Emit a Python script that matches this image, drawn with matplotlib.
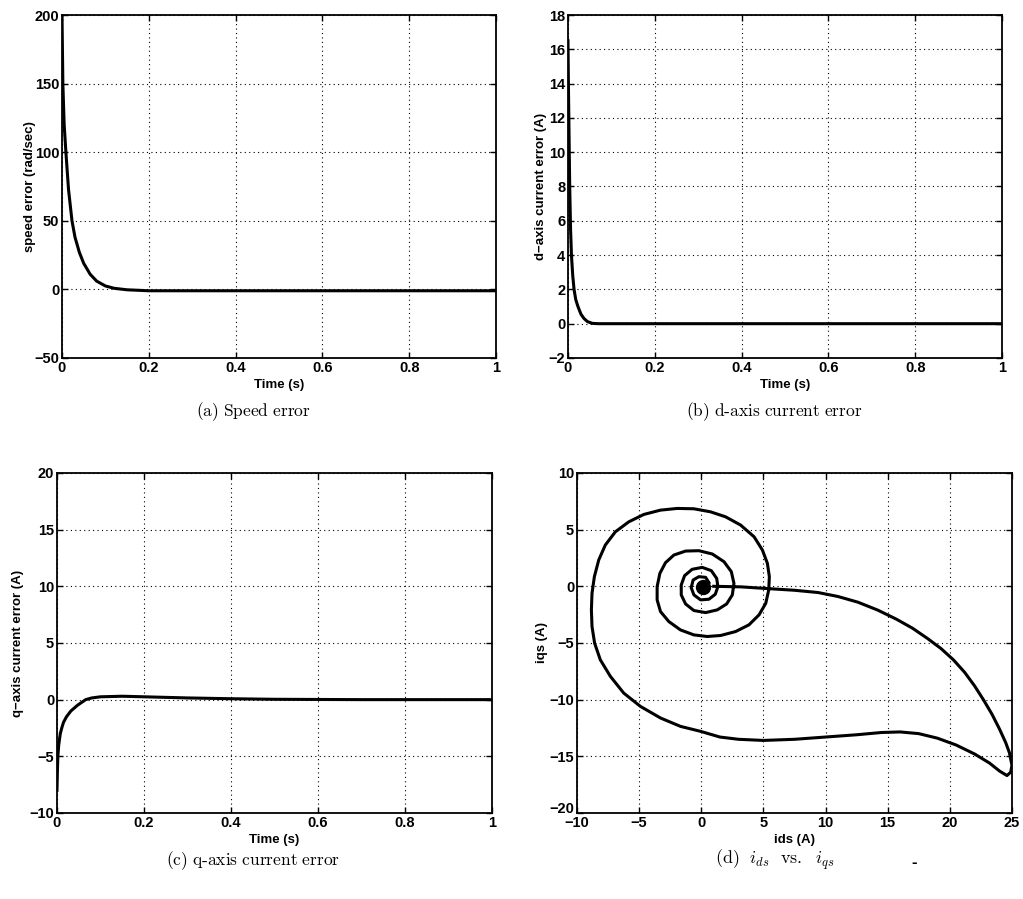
import matplotlib
matplotlib.use("Agg")
import matplotlib.pyplot as plt

# speed error (a)
t_speed = [0, 0.002, 0.005, 0.009, 0.015, 0.023, 0.03, 0.04, 0.05, 0.065, 0.08,
           0.1, 0.12, 0.15, 0.2, 0.3, 0.5, 1.0]
speed_err = [200, 150, 120, 100, 73, 50, 38, 27, 19, 11, 6,
             2.5, 0.8, -0.3, -1, -1, -1, -1]

# d-axis current error (b)
t_d = [0, 0.001, 0.002, 0.004, 0.006, 0.008, 0.011, 0.014, 0.018, 0.023, 0.03,
       0.037, 0.045, 0.056, 0.07, 1.0]
d_err = [16.5, 14, 12, 8, 5.5, 4, 2.8, 2, 1.4, 1, 0.55,
         0.3, 0.12, 0.02, 0, 0]

# q-axis current error (c)
t_q = [0, 0.001, 0.002, 0.004, 0.0076, 0.011, 0.015, 0.022, 0.032, 0.047, 0.066,
       0.08, 0.1, 0.15, 0.2, 0.3, 0.4, 0.5, 0.7, 1.0]
q_err = [-8, -6.3, -5, -4, -3, -2.5, -2, -1.5, -1, -0.5, 0,
         0.15, 0.25, 0.3, 0.25, 0.15, 0.08, 0.03, 0, 0]

ids = [0.62, 0.35, -0.19, -0.65, -0.81, -0.59, -0.05, 0.62, 1.13, 1.34, 1.24, 0.81,
       0.08, -0.73, -1.34, -1.61, -1.61, -1.26, -0.59, 0.35, 1.29, 2.04, 2.50, 2.63,
       2.42, 1.83, 0.89, -0.19, -1.26, -2.20, -2.88, -3.33, -3.55, -3.55, -3.28, -2.61,
       -1.67, -0.59, 0.48, 1.56, 2.77, 3.84, 4.65, 5.19, 5.43, 5.48, 5.32, 4.92,
       4.25, 3.17, 1.96, 0.75, -0.59, -1.94, -3.28, -4.62, -5.83, -6.91, -7.72, -8.25,
       -8.60, -8.79, -8.84, -8.79, -8.58, -8.12, -7.31, -6.24, -4.89, -3.28, -1.67, -0.05,
       1.5, 3.0, 5.0, 7.5, 10, 12.5, 14.5, 16, 17.5, 19, 20.5, 22,
       23.2, 24.0, 24.6, 24.9, 25.0, 24.8, 24.5, 24.0, 23.4, 22.7, 22.0, 21.2,
       20.3, 19.3, 18.2, 17.0, 15.7, 14.2, 12.6, 11.0, 9.4, 7.5, 5.3, 3.2, 1.0]
iqs = [0.32, 0.79, 0.85, 0.56, -0.12, -0.76, -1.20, -1.14, -0.70, -0.03, 0.70, 1.38,
       1.67, 1.50, 0.94, 0.12, -0.76, -1.56, -2.14, -2.32, -2.08, -1.56, -0.76, 0.26,
       1.29, 2.17, 2.85, 3.14, 3.11, 2.76, 2.08, 1.14, -0.03, -1.20, -2.23, -3.11,
       -3.85, -4.29, -4.43, -4.34, -3.99, -3.40, -2.52, -1.50, -0.32, 0.85, 2.03, 3.20,
       4.37, 5.40, 6.13, 6.57, 6.84, 6.87, 6.72, 6.34, 5.69, 4.81, 3.64, 2.32,
       0.85, -0.62, -2.08, -3.55, -5.02, -6.49, -7.95, -9.42, -10.60, -11.62, -12.36, -12.80,
       -13.3, -13.5, -13.6, -13.5, -13.3, -13.1, -12.9, -12.85, -13.0, -13.4, -14.0, -14.8,
       -15.6, -16.3, -16.7, -16.4, -15.8, -14.7, -13.8, -12.6, -11.3, -10.0, -8.8, -7.6,
       -6.5, -5.5, -4.6, -3.7, -2.9, -2.1, -1.4, -0.9, -0.55, -0.35, -0.2, -0.05, 0.0]

time_ticks = [0, 0.2, 0.4, 0.6, 0.8, 1.0]
time_labels = ["0", "0.2", "0.4", "0.6", "0.8", "1"]

plt.rcParams["font.family"] = "Liberation Sans"
plt.rcParams["font.weight"] = "bold"
plt.rcParams["axes.labelweight"] = "bold"
plt.rcParams["mathtext.fontset"] = "cm"


def style(ax):
    ax.grid(True, color="black", linestyle=(0, (1, 3)), linewidth=0.8)
    ax.tick_params(direction="in", length=4, top=True, right=True,
                   labelsize=10.5, width=1, pad=2)
    for lab in ax.get_xticklabels() + ax.get_yticklabels():
        lab.set_fontweight("bold")
    for sp in ax.spines.values():
        sp.set_linewidth(1.3)


fig = plt.figure(figsize=(10.23, 8.99), dpi=100)

# (a)
ax = fig.add_axes([0.0606, 0.6018, 0.4242, 0.3815])
ax.plot(t_speed, speed_err, color="black", linewidth=2.2)
ax.set_xlim(0, 1)
ax.set_ylim(-50, 200)
ax.set_xticks(time_ticks)
ax.set_xticklabels(time_labels)
ax.set_yticks(range(-50, 201, 50))
ax.set_xlabel("Time (s)", fontsize=9.5, labelpad=3)
ax.set_ylabel("speed error (rad/sec)", fontsize=9.5, labelpad=-1)
style(ax)

# (b)
ax = fig.add_axes([0.5552, 0.6018, 0.4242, 0.3815])
ax.plot(t_d, d_err, color="black", linewidth=2.2)
ax.set_xlim(0, 1)
ax.set_ylim(-2, 18)
ax.set_xticks(time_ticks)
ax.set_xticklabels(time_labels)
ax.set_yticks(range(-2, 19, 2))
ax.set_xlabel("Time (s)", fontsize=9.5, labelpad=3)
ax.set_ylabel("d\u2212axis current error (A)", fontsize=9.5, labelpad=1)
style(ax)

# (c)
ax = fig.add_axes([0.0557, 0.0957, 0.4252, 0.3782])
ax.plot(t_q, q_err, color="black", linewidth=2.2)
ax.set_xlim(0, 1)
ax.set_ylim(-10, 20)
ax.set_xticks(time_ticks)
ax.set_xticklabels(time_labels)
ax.set_yticks(range(-10, 21, 5))
ax.set_xlabel("Time (s)", fontsize=9.5, labelpad=3)
ax.set_ylabel("q\u2212axis current error (A)", fontsize=9.5, labelpad=4)
style(ax)

# (d)
ax = fig.add_axes([0.5640, 0.0957, 0.4252, 0.3782])
ax.plot(ids, iqs, color="black", linewidth=2.2)
ax.plot([0.15], [-0.05], "o", color="black", markersize=10)
ax.set_xlim(-10, 25)
ax.set_ylim(-20, 10)
ax.set_xticks(range(-10, 26, 5))
ax.set_yticks(range(-20, 11, 5))
ax.set_xlabel("ids (A)", fontsize=9.5, labelpad=3)
ax.set_ylabel("iqs (A)", fontsize=9.5, labelpad=1)
style(ax)
# lowest y label sits a little higher, as in the original
ax.get_yticklabels()[0].set_verticalalignment("baseline")

# captions
fig.text(0.2473, 0.542, r"$\mathrm{(a)\ Speed\ error}$", ha="center", va="center", fontsize=12.5)
fig.text(0.7566, 0.542, r"$\mathrm{(b)\ d\text{-}axis\ current\ error}$", ha="center", va="center", fontsize=12.5)
fig.text(0.2473, 0.043, r"$\mathrm{(c)\ q\text{-}axis\ current\ error}$", ha="center", va="center", fontsize=12.5)
fig.text(0.7576, 0.043, r"$\mathrm{(d)}\ \ i_{ds}\ \ \mathrm{vs.}\ \ i_{qs}$", ha="center", va="center", fontsize=13)
fig.text(0.894, 0.041, "-", ha="center", va="center", fontsize=12, fontweight="bold")

fig.savefig("out.png", dpi=100)
